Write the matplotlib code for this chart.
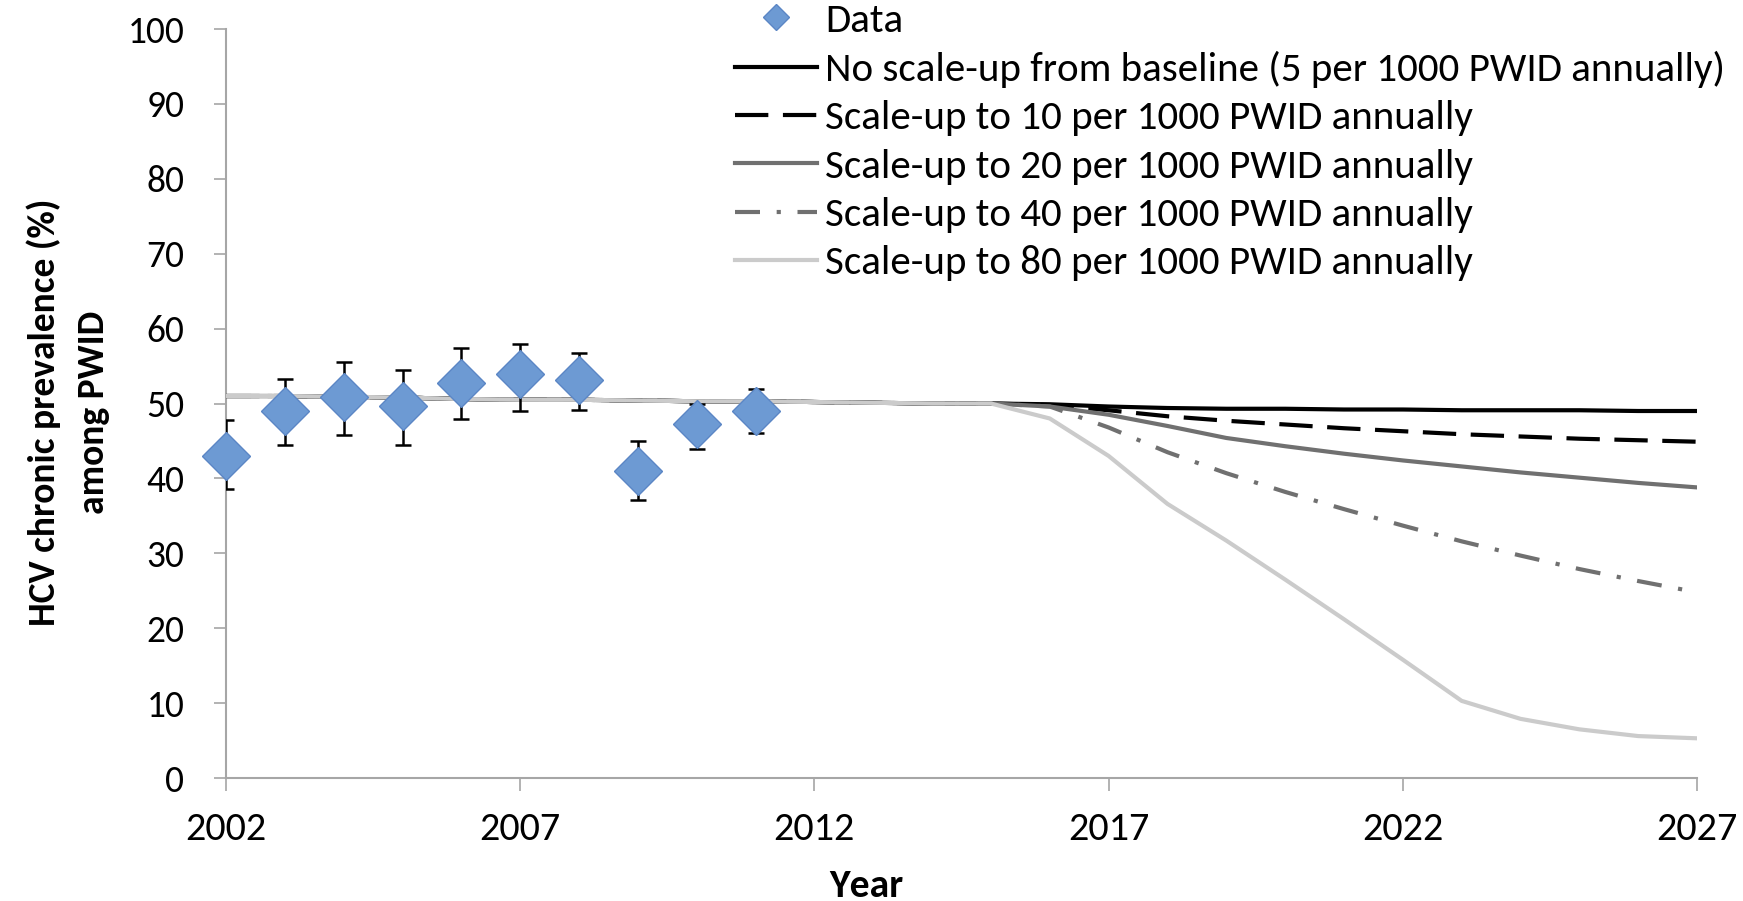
import matplotlib
matplotlib.use("Agg")
import matplotlib.pyplot as plt
from matplotlib import font_manager
import numpy as np

# observed prevalence with error bars
data_years = [2002, 2003, 2004, 2005, 2006, 2007, 2008, 2009, 2010, 2011]
data_prev = [43.0, 49.0, 50.9, 49.7, 52.8, 53.9, 53.1, 41.0, 47.2, 49.0]
data_hi = [47.8, 53.3, 55.5, 54.5, 57.4, 58.0, 56.7, 45.0, 49.9, 51.9]
data_lo = [38.6, 44.5, 45.8, 44.4, 47.9, 49.0, 49.1, 37.1, 43.9, 46.0]

# model projections
years = list(range(2002, 2028))
baseline = [51.0, 51.0, 50.9, 50.8, 50.6, 50.5, 50.5, 50.4, 50.3, 50.3,
            50.2, 50.1, 50.0, 50.0]
no_scale = baseline + [49.9, 49.6, 49.4, 49.3, 49.3, 49.2, 49.2, 49.1, 49.1, 49.1, 49.0, 49.0]
scale_10 = baseline + [49.8, 49.1, 48.3, 47.7, 47.2, 46.7, 46.3, 45.9, 45.6, 45.3, 45.1, 44.9]
scale_20 = baseline + [49.6, 48.5, 47.0, 45.4, 44.3, 43.3, 42.4, 41.6, 40.8, 40.1, 39.4, 38.8]
scale_40 = baseline + [49.6, 46.8, 43.5, 40.7, 38.2, 35.9, 33.7, 31.6, 29.7, 27.9, 26.3, 24.8]
scale_80 = baseline + [48.0, 43.0, 36.6, 31.7, 26.5, 21.2, 15.8, 10.3, 7.9, 6.5, 5.6, 5.3]

labels = ["No scale-up from baseline (5 per 1000 PWID annually)",
          "Scale-up to 10 per 1000 PWID annually",
          "Scale-up to 20 per 1000 PWID annually",
          "Scale-up to 40 per 1000 PWID annually",
          "Scale-up to 80 per 1000 PWID annually"]

installed = {f.name for f in font_manager.fontManager.ttflist}
body = ["Carlito", "DejaVu Sans"] if "Carlito" in installed else ["DejaVu Sans"]

fig = plt.figure(figsize=(17.43, 9.01), dpi=100)
ax = fig.add_axes([0.1297, 0.1365, 0.8439, 0.8313])

ax.plot(years, no_scale, color="black", lw=3, label=labels[0], zorder=3)
ax.plot(years, scale_10, color="black", lw=3, dashes=(8, 3.5), label=labels[1], zorder=3)
ax.plot(years, scale_20, color="#707070", lw=3, label=labels[2], zorder=3)
ax.plot(years, scale_40, color="#707070", lw=3, dashes=(6, 4, 1, 4), label=labels[3], zorder=3)
ax.plot(years, scale_80, color="#cbcbcb", lw=3, label=labels[4], zorder=3)

yerr = [np.array(data_prev) - np.array(data_lo), np.array(data_hi) - np.array(data_prev)]
ax.errorbar(data_years, data_prev, yerr=yerr, fmt="none", ecolor="black",
            elinewidth=1.8, capsize=6, capthick=1.8, zorder=4)
ax.plot(data_years, data_prev, "D", ms=24, mfc="#6d9ad3", mec="#5b86c5",
        mew=1.0, label="Data", zorder=5, linestyle="none", clip_on=False)

ax.set_xlim(2002, 2027)
ax.set_ylim(0, 100)
ax.set_xticks([2002, 2007, 2012, 2017, 2022, 2027])
ax.set_yticks(range(0, 101, 10))
for s in ["top", "right"]:
    ax.spines[s].set_visible(False)
for s in ["left", "bottom"]:
    ax.spines[s].set_color("#a6a6a6")
    ax.spines[s].set_linewidth(1.5)
ax.tick_params(axis="both", direction="out", color="#a6a6a6", width=1.2, length=9)
ax.tick_params(axis="y", pad=21)
ax.tick_params(axis="x", pad=15)
for t in ax.get_yticklabels():
    t.set_family(body)
    t.set_fontsize(27)
for t in ax.get_xticklabels():
    t.set_family(body)
    t.set_fontsize(29)

fig.text(0.497, 0.004, "Year", ha="center", va="baseline", fontsize=28.5,
         fontweight="bold", family=body)
fig.text(0.039, 0.542, "HCV chronic prevalence (%)\namong PWID", ha="center",
         va="center", rotation=90, fontsize=27, fontweight="bold", family=body,
         linespacing=1.6)

handles, labs = ax.get_legend_handles_labels()
order = [5, 0, 1, 2, 3, 4]
leg = fig.legend([handles[i] for i in order], [labs[i] for i in order],
                 loc="upper left", bbox_to_anchor=(0.4217, 0.997), frameon=False,
                 prop={"family": body, "size": 29.5}, handlelength=2.0,
                 handletextpad=0.2, labelspacing=0.3, markerscale=0.55,
                 borderpad=0, borderaxespad=0)

fig.savefig("out.png", dpi=100)
